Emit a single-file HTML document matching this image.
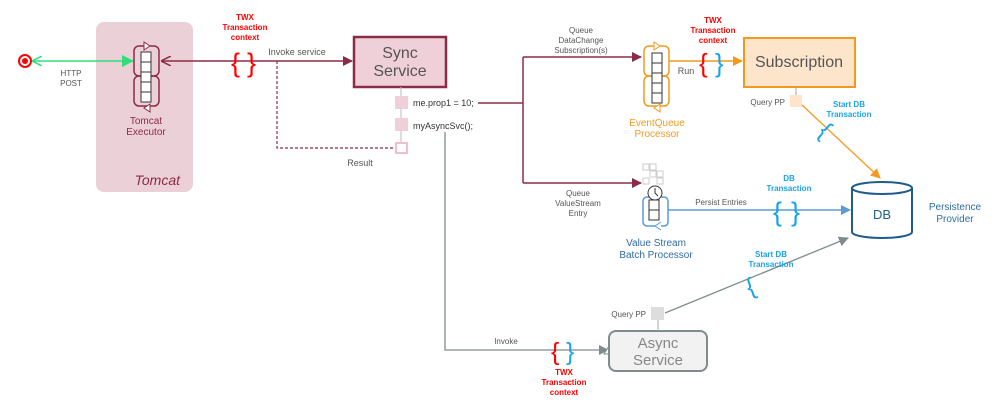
<!DOCTYPE html>
<html><head><style>
body{margin:0;background:#fff}
svg{display:block;font-family:"Liberation Sans",sans-serif}
</style></head><body>
<svg width="999" height="409" viewBox="0 0 999 409" xmlns="http://www.w3.org/2000/svg">
<defs>
<marker id="am" markerWidth="10" markerHeight="10" refX="9" refY="5" orient="auto" markerUnits="userSpaceOnUse"><path d="M0,0 L10,5 L0,10z" fill="#8b2c46"/></marker>
<marker id="amo" markerWidth="10" markerHeight="10" refX="1" refY="5" orient="auto" markerUnits="userSpaceOnUse"><path d="M10,0 L0,5 L10,10" fill="none" stroke="#8b2c46" stroke-width="1.5"/></marker>
<marker id="ag" markerWidth="12" markerHeight="12" refX="11" refY="6" orient="auto" markerUnits="userSpaceOnUse"><path d="M0,0 L12,6 L0,12z" fill="#2ee07a"/></marker>
<marker id="ag2" markerWidth="10" markerHeight="10" refX="1" refY="5" orient="auto" markerUnits="userSpaceOnUse"><path d="M10,0 L0,5 L10,10" fill="none" stroke="#2ee07a" stroke-width="1.5"/></marker>
<marker id="ao" markerWidth="10" markerHeight="10" refX="9" refY="5" orient="auto" markerUnits="userSpaceOnUse"><path d="M0,0 L10,5 L0,10z" fill="#f39a1e"/></marker>
<marker id="ab" markerWidth="10" markerHeight="10" refX="9" refY="5" orient="auto" markerUnits="userSpaceOnUse"><path d="M0,0 L10,5 L0,10z" fill="#5b9bd5"/></marker>
<marker id="agr" markerWidth="10" markerHeight="10" refX="9" refY="5" orient="auto" markerUnits="userSpaceOnUse"><path d="M0,0 L10,5 L0,10z" fill="#7f8c8d"/></marker>
</defs>
<rect x="96" y="22" width="97" height="170" rx="8" fill="#ecd0d8"/>
<text x="180" y="185" font-size="14" font-style="italic" fill="#8b2c46" text-anchor="end">Tomcat</text>
<circle cx="25" cy="61" r="6" fill="#fff" stroke="#f00" stroke-width="2"/><circle cx="25" cy="61" r="3" fill="#f00"/>
<line x1="33" y1="61" x2="133" y2="61" stroke="#2ee07a" stroke-width="1.5" marker-start="url(#ag2)" marker-end="url(#ag)"/>
<text x="71" y="76" font-size="8" fill="#555" text-anchor="middle">HTTP</text>
<text x="71" y="86" font-size="8" fill="#555" text-anchor="middle">POST</text>
<g stroke="#8b2c46" stroke-width="1.5" fill="none">
<rect x="134" y="46" width="25" height="30" rx="5"/><rect x="134" y="76" width="25" height="30" rx="5"/>
</g>
<g fill="#fff" stroke="#333" stroke-width="1"><rect x="141" y="52" width="10" height="10"/><rect x="141" y="62" width="10" height="10"/><rect x="141" y="72" width="10" height="10"/><rect x="141" y="82" width="10" height="10"/><rect x="141" y="92" width="10" height="10"/></g>
<path d="M144,42 L150,46 L144,50z M150,104 L144,108 L150,112z" fill="#fff" stroke="#8b2c46"/>
<text x="146" y="124" font-size="10" fill="#8b2c46" text-anchor="middle">Tomcat</text>
<text x="146" y="135" font-size="10" fill="#8b2c46" text-anchor="middle">Executor</text>
<line x1="162" y1="61" x2="352" y2="61" stroke="#8b2c46" stroke-width="1.5" marker-start="url(#amo)" marker-end="url(#am)"/>
<text x="245" y="20" font-size="8" font-weight="bold" fill="#f00" text-anchor="middle">TWX</text>
<text x="245" y="30" font-size="8" font-weight="bold" fill="#f00" text-anchor="middle">Transaction</text>
<text x="245" y="40" font-size="8" font-weight="bold" fill="#f00" text-anchor="middle">context</text>
<text x="231" y="72" font-size="27" fill="#f00">{</text><text x="247" y="72" font-size="27" fill="#f00">}</text>
<text x="297" y="55" font-size="9" fill="#555" text-anchor="middle">Invoke service</text>
<path d="M277,61 V148 H396" fill="none" stroke="#8b2c46" stroke-width="1.2" stroke-dasharray="3,2"/>
<rect x="354" y="37" width="92" height="50" fill="#efd0d8" stroke="#8b2c46" stroke-width="2.5"/>
<text x="400" y="58" font-size="16" fill="#555" text-anchor="middle">Sync</text>
<text x="400" y="76" font-size="16" fill="#555" text-anchor="middle">Service</text>
<line x1="401" y1="87" x2="401" y2="150" stroke="#bbb"/>
<rect x="395" y="96" width="13" height="13" fill="#efd0d8"/>
<rect x="395" y="118" width="13" height="13" fill="#efd0d8"/>
<rect x="396" y="143" width="11" height="10" fill="#fff" stroke="#efc0cc" stroke-width="2"/>
<text x="413" y="106" font-size="9" fill="#333">me.prop1 = 10;</text>
<text x="413" y="129" font-size="9" fill="#333">myAsyncSvc();</text>
<text x="360" y="166" font-size="9" fill="#555" text-anchor="middle">Result</text>
<path d="M478,103 H523 M523,57 V183" stroke="#8b2c46" stroke-width="1.5" fill="none"/>
<line x1="523" y1="57" x2="641" y2="57" stroke="#8b2c46" stroke-width="1.5" marker-end="url(#am)"/>
<line x1="523" y1="183" x2="641" y2="183" stroke="#8b2c46" stroke-width="1.5" marker-end="url(#am)"/>
<text x="581" y="33" font-size="8" fill="#555" text-anchor="middle">Queue</text>
<text x="581" y="43" font-size="8" fill="#555" text-anchor="middle">DataChange</text>
<text x="581" y="53" font-size="8" fill="#555" text-anchor="middle">Subscription(s)</text>
<text x="578" y="196" font-size="8" fill="#555" text-anchor="middle">Queue</text>
<text x="578" y="206" font-size="8" fill="#555" text-anchor="middle">ValueStream</text>
<text x="578" y="216" font-size="8" fill="#555" text-anchor="middle">Entry</text>
<g stroke="#f39a1e" stroke-width="1.5" fill="none">
<rect x="644" y="46" width="25" height="30" rx="5"/><rect x="644" y="76" width="25" height="30" rx="5"/>
</g>
<g fill="#fff" stroke="#333"><rect x="652" y="53" width="10" height="10"/><rect x="652" y="63" width="10" height="10"/><rect x="652" y="73" width="10" height="10"/><rect x="652" y="83" width="10" height="10"/><rect x="652" y="93" width="10" height="10"/></g>
<path d="M654,42 L660,46 L654,50z M660,104 L654,108 L660,112z" fill="#fff" stroke="#f39a1e"/>
<text x="657" y="126" font-size="10" fill="#f39a1e" text-anchor="middle">EventQueue</text>
<text x="657" y="137" font-size="10" fill="#f39a1e" text-anchor="middle">Processor</text>
<line x1="669" y1="61" x2="742" y2="61" stroke="#f39a1e" stroke-width="1.5" marker-end="url(#ao)"/>
<text x="686" y="74" font-size="9" fill="#555" text-anchor="middle">Run</text>
<text x="713" y="23" font-size="8" font-weight="bold" fill="#f00" text-anchor="middle">TWX</text>
<text x="713" y="33" font-size="8" font-weight="bold" fill="#f00" text-anchor="middle">Transaction</text>
<text x="713" y="43" font-size="8" font-weight="bold" fill="#f00" text-anchor="middle">context</text>
<text x="699" y="72" font-size="26" fill="#f00">{</text><text x="715" y="72" font-size="26" fill="#1aa3e8">}</text>
<rect x="744" y="38" width="111" height="49" fill="#fde5cc" stroke="#f39a1e" stroke-width="2"/>
<text x="799" y="67" font-size="16" fill="#555" text-anchor="middle">Subscription</text>
<line x1="796" y1="87" x2="796" y2="95" stroke="#aaa"/>
<rect x="790" y="95" width="12" height="12" fill="#fde5cc"/>
<text x="785" y="105" font-size="8" fill="#555" text-anchor="end">Query PP</text>
<line x1="802" y1="105" x2="880" y2="178" stroke="#f39a1e" stroke-width="1.3" marker-end="url(#ao)"/>
<text x="849" y="107" font-size="8" font-weight="bold" fill="#1aa3e8" text-anchor="middle">Start DB</text>
<text x="849" y="117" font-size="8" font-weight="bold" fill="#1aa3e8" text-anchor="middle">Transaction</text>
<text x="822" y="140" font-size="24" fill="#1aa3e8" transform="rotate(40 828 130)">{</text>
<g fill="#fff" stroke="#ccc"><rect x="643" y="164" width="6" height="6"/><rect x="650" y="164" width="6" height="6"/><rect x="650" y="171" width="6" height="6"/><rect x="657" y="171" width="6" height="6"/><rect x="643" y="178" width="6" height="6"/><rect x="657" y="178" width="6" height="6"/></g>
<rect x="643" y="197" width="25" height="29" rx="4" fill="none" stroke="#5b9bd5" stroke-width="1.5"/>
<g fill="#fff" stroke="#333"><rect x="649" y="200" width="10" height="10"/><rect x="649" y="210" width="10" height="10"/></g>
<circle cx="655" cy="193" r="7" fill="#fff" stroke="#333"/><path d="M655,188 V193 L658,196" stroke="#333" fill="none"/>
<path d="M661,222 L655,226 L661,230" fill="#fff" stroke="#5b9bd5"/>
<text x="656" y="246" font-size="10" fill="#2e6da4" text-anchor="middle">Value Stream</text>
<text x="656" y="258" font-size="10" fill="#2e6da4" text-anchor="middle">Batch Processor</text>
<line x1="668" y1="210" x2="850" y2="210" stroke="#5b9bd5" stroke-width="1.5" marker-end="url(#ab)"/>
<text x="721" y="205" font-size="8" fill="#555" text-anchor="middle">Persist Entries</text>
<text x="789" y="181" font-size="8" font-weight="bold" fill="#1aa3e8" text-anchor="middle">DB</text>
<text x="789" y="191" font-size="8" font-weight="bold" fill="#1aa3e8" text-anchor="middle">Transaction</text>
<text x="773" y="221" font-size="27" fill="#1aa3e8">{</text><text x="791" y="221" font-size="27" fill="#1aa3e8">}</text>
<path d="M852,188 V232 A30,6 0 0 0 912,232 V188" fill="#fff" stroke="#1f5c8b" stroke-width="2"/>
<ellipse cx="882" cy="188" rx="30" ry="6" fill="#fff" stroke="#1f5c8b" stroke-width="2"/>
<text x="882" y="219" font-size="13" fill="#1f5c8b" text-anchor="middle">DB</text>
<text x="955" y="210" font-size="10" fill="#2e6da4" text-anchor="middle">Persistence</text>
<text x="955" y="222" font-size="10" fill="#2e6da4" text-anchor="middle">Provider</text>
<path d="M445,132 V350 H608" fill="none" stroke="#7f8c8d" stroke-width="1.3" marker-end="url(#agr)"/>
<path d="M604,354 L609,346 L614,354z" fill="#fff" stroke="#7f8c8d"/>
<text x="506" y="344" font-size="8" fill="#555" text-anchor="middle">Invoke</text>
<text x="551" y="360" font-size="25" fill="#f00">{</text><text x="566" y="360" font-size="25" fill="#1aa3e8">}</text>
<text x="564" y="375" font-size="8" font-weight="bold" fill="#f00" text-anchor="middle">TWX</text>
<text x="564" y="385" font-size="8" font-weight="bold" fill="#f00" text-anchor="middle">Transaction</text>
<text x="564" y="395" font-size="8" font-weight="bold" fill="#f00" text-anchor="middle">context</text>
<rect x="609" y="331" width="98" height="40" rx="7" fill="#f2f2f2" stroke="#7f8c8d" stroke-width="2"/>
<text x="658" y="348" font-size="15" fill="#888" text-anchor="middle">Async</text>
<text x="658" y="365" font-size="15" fill="#888" text-anchor="middle">Service</text>
<line x1="658" y1="320" x2="658" y2="331" stroke="#aaa"/>
<rect x="651" y="307" width="13" height="13" fill="#ddd"/>
<text x="646" y="317" font-size="8" fill="#555" text-anchor="end">Query PP</text>
<line x1="665" y1="313" x2="848" y2="238" stroke="#7f8c8d" stroke-width="1.3" marker-end="url(#agr)"/>
<text x="771" y="257" font-size="8" font-weight="bold" fill="#1aa3e8" text-anchor="middle">Start DB</text>
<text x="771" y="267" font-size="8" font-weight="bold" fill="#1aa3e8" text-anchor="middle">Transaction</text>
<text x="746" y="294" font-size="24" fill="#1aa3e8" transform="rotate(-20 752 285)">{</text>
</svg>
</body></html>
